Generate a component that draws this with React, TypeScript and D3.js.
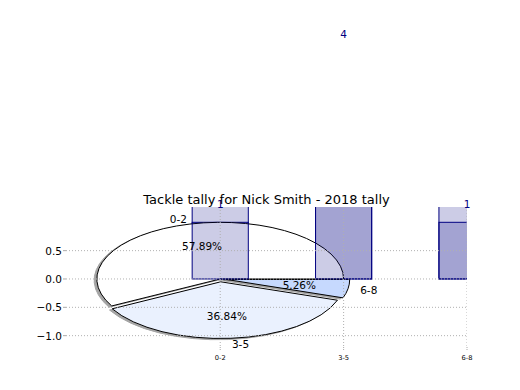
import React, { useEffect, useRef } from "react";
import * as d3 from "d3";

// tackle buckets
const categories = ["0-2", "3-5", "6-8"];
// pie: share of games per bucket
const pieCounts = [11, 7, 1];
const pieExplode = [0, 0.05, 0.05];
const pieColors = ["#ffffff", "#eaf1fe", "#c6d9fe"];
// bars: back series (labelled) and front series
const missedBars = [1, 4, 1];
const madeBars = [7, 6, 5];
const yTicks = [-1.0, -0.5, 0.0, 0.5];

const W = 520;
const H = 390;
const plot = { left: 66, right: 467, top: 207, bottom: 347 };

export default function App() {
  const svgRef = useRef<SVGSVGElement>(null);

  useEffect(() => {
    const svg = d3.select(svgRef.current);
    svg.selectAll("*").remove();
    svg.attr("width", W).attr("height", H).attr("viewBox", `0 0 ${W} ${H}`);

    const x = d3.scaleLinear().domain([-1.25, 2]).range([plot.left, plot.right]);
    const y = d3.scaleLinear().domain([-1.2, 1.27]).range([plot.bottom, plot.top]);
    const barW = 0.455;
    const font = "DejaVu Sans, sans-serif";

    svg
      .append("defs")
      .append("clipPath")
      .attr("id", "plotClip")
      .append("rect")
      .attr("x", plot.left)
      .attr("y", plot.top)
      .attr("width", plot.right - plot.left)
      .attr("height", plot.bottom - plot.top);

    const g = svg.append("g").attr("clip-path", "url(#plotClip)");

    // pie angles (counter-clockwise from 3 o'clock, matplotlib style)
    const arcs = d3
      .pie<number>()
      .sort(null)
      .startAngle(0)
      .endAngle(2 * Math.PI)(pieCounts);
    const total = d3.sum(pieCounts);
    const rx = x(1) - x(0);
    const ry = y(0) - y(1);

    const wedgePath = (i: number, dx: number, dy: number) => {
      const a = arcs[i];
      const mid = (a.startAngle + a.endAngle) / 2;
      const ox = pieExplode[i] * Math.cos(mid) + dx;
      const oy = pieExplode[i] * Math.sin(mid) + dy;
      const p = (t: number) => [x(ox + Math.cos(t)), y(oy + Math.sin(t))];
      const [x1, y1] = p(a.startAngle);
      const [x2, y2] = p(a.endAngle);
      const large = a.endAngle - a.startAngle > Math.PI ? 1 : 0;
      return `M${x(ox)},${y(oy)}L${x1},${y1}A${rx},${ry} 0 ${large} 0 ${x2},${y2}Z`;
    };

    // shadows
    arcs.forEach((_, i) => {
      g.append("path")
        .attr("d", wedgePath(i, -0.022, -0.022))
        .attr("fill", "rgb(77,77,77)")
        .attr("stroke", "rgb(77,77,77)")
        .attr("opacity", 0.5);
    });

    // back bars
    const bars = (vals: number[]) =>
      g
        .selectAll(null)
        .data(vals)
        .enter()
        .append("rect")
        .attr("x", (_, i) => x(i - barW / 2))
        .attr("width", x(barW) - x(0))
        .attr("y", (v) => y(v))
        .attr("height", (v) => y(0) - y(v))
        .attr("fill", "rgba(0,0,128,0.2)")
        .attr("stroke", "#000080")
        .attr("stroke-width", 1);

    bars(missedBars);

    // wedges
    arcs.forEach((_, i) => {
      g.append("path")
        .attr("d", wedgePath(i, 0, 0))
        .attr("fill", pieColors[i])
        .attr("stroke", "#000")
        .attr("stroke-width", 1)
        .attr("stroke-linejoin", "miter");
    });

    bars(madeBars);

    // grid
    g.selectAll(null)
      .data(yTicks)
      .enter()
      .append("line")
      .attr("x1", plot.left)
      .attr("x2", plot.right)
      .attr("y1", (d) => y(d))
      .attr("y2", (d) => y(d))
      .attr("stroke", "#b0b0b0")
      .attr("stroke-dasharray", "1,2");
    g.selectAll(null)
      .data(categories)
      .enter()
      .append("line")
      .attr("x1", (_, i) => x(i))
      .attr("x2", (_, i) => x(i))
      .attr("y1", plot.top)
      .attr("y2", plot.bottom)
      .attr("stroke", "#b0b0b0")
      .attr("stroke-dasharray", "1,2");

    // ticks
    svg
      .selectAll(null)
      .data(yTicks)
      .enter()
      .append("line")
      .attr("x1", plot.left - 3)
      .attr("x2", plot.left)
      .attr("y1", (d) => y(d))
      .attr("y2", (d) => y(d))
      .attr("stroke", "#aaa");
    svg
      .selectAll(null)
      .data(yTicks)
      .enter()
      .append("text")
      .attr("x", plot.left - 4)
      .attr("y", (d) => y(d))
      .attr("text-anchor", "end")
      .attr("dominant-baseline", "central")
      .style("font-family", font)
      .style("font-size", "10.5px")
      .text((d) => d3.format(".1f")(d).replace("-", "\u2212"));
    svg
      .selectAll(null)
      .data(categories)
      .enter()
      .append("line")
      .attr("x1", (_, i) => x(i))
      .attr("x2", (_, i) => x(i))
      .attr("y1", plot.bottom)
      .attr("y2", plot.bottom + 4)
      .attr("stroke", "#aaa")
      .attr("stroke-dasharray", "1,1");
    svg
      .selectAll(null)
      .data(categories)
      .enter()
      .append("text")
      .attr("x", (_, i) => x(i))
      .attr("y", plot.bottom + 13)
      .attr("text-anchor", "middle")
      .style("font-family", font)
      .style("font-size", "6.7px")
      .text((d) => d);

    // bar value labels
    svg
      .selectAll(null)
      .data(missedBars)
      .enter()
      .append("text")
      .attr("x", (_, i) => x(i))
      .attr("y", (v) => y(v + 0.25))
      .attr("text-anchor", "middle")
      .attr("fill", "#000080")
      .style("font-family", font)
      .style("font-size", "10.5px")
      .text((v) => v);

    // pie labels
    arcs.forEach((a, i) => {
      const mid = (a.startAngle + a.endAngle) / 2;
      const ox = pieExplode[i] * Math.cos(mid);
      const oy = pieExplode[i] * Math.sin(mid);
      const lx = ox + 1.1 * Math.cos(mid);
      svg
        .append("text")
        .attr("x", x(lx))
        .attr("y", y(oy + 1.1 * Math.sin(mid)))
        .attr("text-anchor", lx < 0 ? "end" : "start")
        .attr("dominant-baseline", "central")
        .style("font-family", font)
        .style("font-size", "10.5px")
        .text(categories[i]);
      svg
        .append("text")
        .attr("x", x(ox + 0.6 * Math.cos(mid)))
        .attr("y", y(oy + 0.6 * Math.sin(mid)))
        .attr("text-anchor", "middle")
        .attr("dominant-baseline", "central")
        .style("font-family", font)
        .style("font-size", "10.5px")
        .text(`${((pieCounts[i] / total) * 100).toFixed(2)}%`);
    });

    // title
    svg
      .append("text")
      .attr("x", (plot.left + plot.right) / 2)
      .attr("y", plot.top - 3)
      .attr("text-anchor", "middle")
      .style("font-family", font)
      .style("font-size", "13px")
      .text("Tackle tally for Nick Smith - 2018 tally");
  }, []);

  return (
    <svg
      ref={svgRef}
      style={{ position: "absolute", left: 0, top: 0, background: "#fff" }}
    ></svg>
  );
}
